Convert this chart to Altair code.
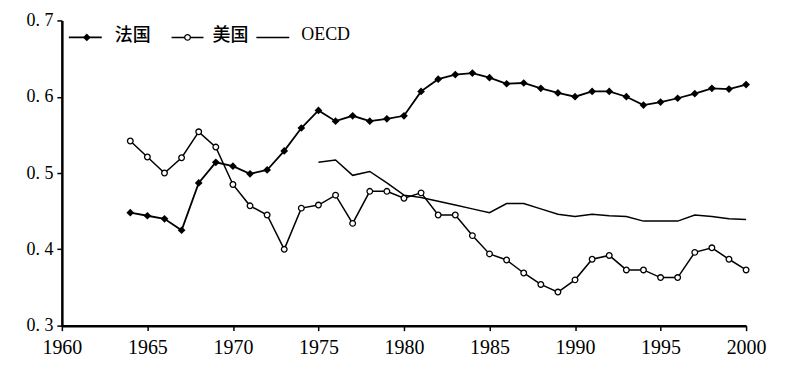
import altair as alt
import pandas as pd

years_fr = list(range(1964, 2001))
france = [0.448, 0.444, 0.440, 0.425, 0.487, 0.514, 0.509, 0.499, 0.504, 0.529,
          0.559, 0.582, 0.568, 0.575, 0.568, 0.571, 0.575, 0.607, 0.623, 0.629,
          0.631, 0.625, 0.617, 0.618, 0.611, 0.605, 0.600, 0.607, 0.607, 0.600,
          0.589, 0.593, 0.598, 0.604, 0.611, 0.610, 0.616]

years_us = list(range(1964, 2001))
usa = [0.542, 0.521, 0.500, 0.520, 0.554, 0.534, 0.485, 0.457, 0.445, 0.400,
       0.454, 0.458, 0.471, 0.434, 0.476, 0.476, 0.467, 0.474, 0.445, 0.445,
       0.418, 0.394, 0.386, 0.369, 0.354, 0.344, 0.360, 0.387, 0.392, 0.373,
       0.373, 0.363, 0.363, 0.396, 0.402, 0.387, 0.373]

years_oecd = list(range(1975, 2001))
oecd = [0.514, 0.517, 0.497, 0.502, 0.487, 0.471, 0.468, 0.463, 0.458, 0.453,
        0.448, 0.460, 0.460, 0.453, 0.446, 0.443, 0.446, 0.444, 0.443, 0.437,
        0.437, 0.437, 0.445, 0.443, 0.440, 0.439]

legend_labels = ["法国", "美国", "OECD"]
x_ticks = [1960, 1965, 1970, 1975, 1980, 1985, 1990, 1995, 2000]
y_ticks = [0.3, 0.4, 0.5, 0.6, 0.7]

df_fr = pd.DataFrame({"year": years_fr, "v": france})
df_us = pd.DataFrame({"year": years_us, "v": usa})
df_oe = pd.DataFrame({"year": years_oecd, "v": oecd})

X = alt.X("year:Q", scale=alt.Scale(domain=[1960, 2000], nice=False, zero=False),
          axis=alt.Axis(values=x_ticks, format="d", title=None, labelFlush=False))
Y = alt.Y("v:Q", scale=alt.Scale(domain=[0.3, 0.7], nice=False, zero=False),
          axis=alt.Axis(values=y_ticks, title=None,
                        labelExpr="replace(format(datum.value, '.1f'), '.', '. ')"))

fr_line = alt.Chart(df_fr).mark_line(color="black", strokeWidth=1.8).encode(x=X, y=Y)
fr_pts = alt.Chart(df_fr).mark_point(shape="diamond", filled=True, color="black",
                                     size=60, opacity=1).encode(x=X, y=Y)
us_line = alt.Chart(df_us).mark_line(color="black", strokeWidth=1.5).encode(x=X, y=Y)
us_pts = alt.Chart(df_us).mark_point(shape="circle", filled=True, fill="white",
                                     stroke="black", strokeWidth=1.3, size=32,
                                     opacity=1).encode(x=X, y=Y)
oe_line = alt.Chart(df_oe).mark_line(color="black", strokeWidth=1.5).encode(x=X, y=Y)

one = alt.Data(values=[{"k": 0}])
ly = 17
leg = [
    alt.Chart(one).mark_rule(color="black", strokeWidth=1.8).encode(
        x=alt.value(7), x2=alt.value(40), y=alt.value(ly)),
    alt.Chart(one).mark_point(shape="diamond", filled=True, color="black", size=60, opacity=1).encode(
        x=alt.value(25), y=alt.value(ly)),
    alt.Chart(one).mark_text(text=legend_labels[0], align="left", baseline="middle",
                             font="Noto Sans CJK SC", fontSize=18, color="black",
                             fontWeight=500).encode(
        x=alt.value(53), y=alt.value(ly - 1)),
    alt.Chart(one).mark_rule(color="black", strokeWidth=1.5).encode(
        x=alt.value(110), x2=alt.value(142), y=alt.value(ly)),
    alt.Chart(one).mark_point(shape="circle", filled=True, fill="white", stroke="black",
                              strokeWidth=1.3, size=32, opacity=1).encode(
        x=alt.value(126), y=alt.value(ly)),
    alt.Chart(one).mark_text(text=legend_labels[1], align="left", baseline="middle",
                             font="Noto Sans CJK SC", fontSize=18, color="black",
                             fontWeight=500).encode(
        x=alt.value(151), y=alt.value(ly - 1)),
    alt.Chart(one).mark_rule(color="black", strokeWidth=1.5).encode(
        x=alt.value(195), x2=alt.value(228), y=alt.value(ly)),
    alt.Chart(one).mark_text(text=legend_labels[2], align="left", baseline="middle",
                             font="Liberation Serif", fontSize=18, color="black").encode(
        x=alt.value(240), y=alt.value(ly - 2)),
]

chart = alt.layer(fr_line, fr_pts, us_line, us_pts, oe_line, *leg).properties(
    width=686, height=306,
    autosize=alt.AutoSizeParams(type="none"),
    padding={"left": 54, "top": 12, "right": 35, "bottom": 34},
).configure_view(stroke=None).configure_axis(
    grid=False, domainColor="black", domainWidth=2.5, tickColor="black",
    tickWidth=1.5, tickSize=5, labelColor="black", labelFont="Liberation Serif",
).configure_axisX(
    labelFontSize=20, labelPadding=7,
).configure_axisY(
    labelFontSize=18, labelPadding=4,
)

chart.save("out.html", embed_options={"renderer": "svg", "actions": False})
